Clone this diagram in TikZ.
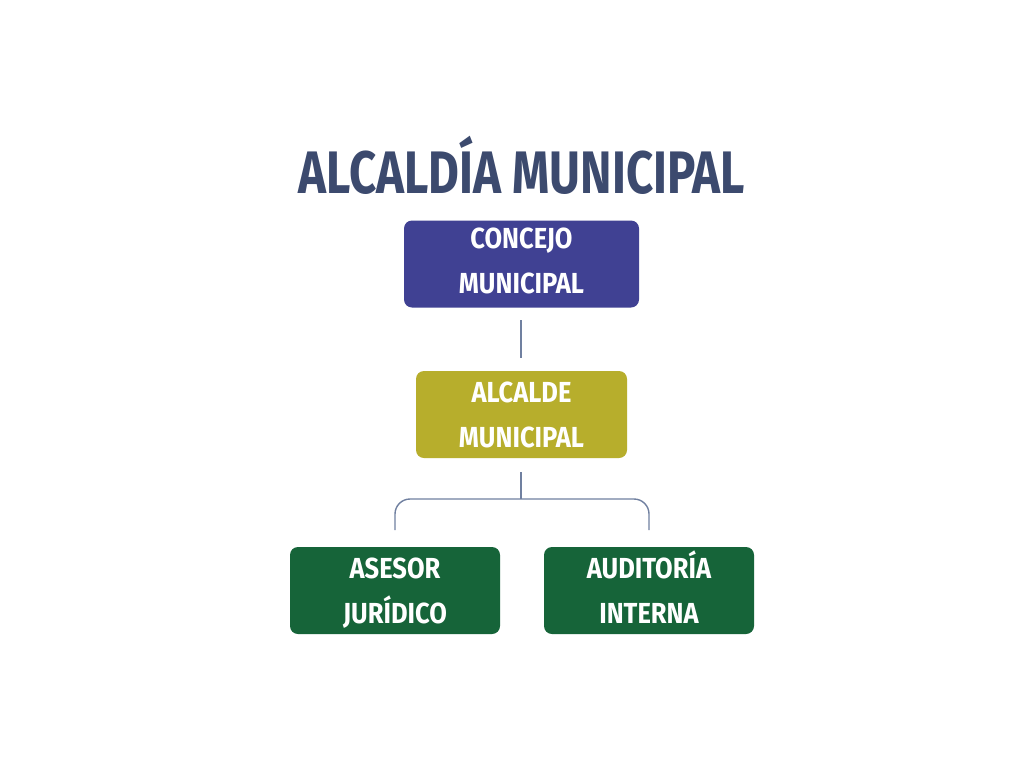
\documentclass[tikz,border=0pt]{standalone}
\usepackage{fontspec}
\setmainfont{Fira Sans}[FakeStretch=0.79,UprightFont=* Bold]
\newfontfamily\boxfont{Fira Sans}[FakeStretch=0.88,UprightFont=* Bold]
\newcommand\lnstrut{\rule[-14pt]{0pt}{41pt}}
\newcommand\lnstrutb{\rule[-10pt]{0pt}{41pt}}
\definecolor{titlec}{HTML}{3C4A6E}
\definecolor{concejoc}{HTML}{404193}
\definecolor{alcaldec}{HTML}{B7AE2C}
\definecolor{greenc}{HTML}{166439}
\definecolor{linec}{HTML}{7080A0}
\begin{document}
\begin{tikzpicture}[x=1pt,y=-1pt,
  box/.style={rounded corners=8pt, minimum width=#1, minimum height=87pt, inner sep=0pt, text=white, align=center, font=\boxfont\fontsize{29}{45}\selectfont},
  conn/.style={draw=linec, line width=1.4pt}]
\useasboundingbox[fill=white] (0,0) rectangle (1024,768);
\node[text=titlec, font=\fontsize{60}{60}\selectfont] (title) at (522,165) {ALCALDÍA MUNICIPAL};
\node[box=235pt, fill=concejoc] (concejo) at (521.5,264) {\lnstrut CONCEJO\\\lnstrut MUNICIPAL};
\node[box=211pt, fill=alcaldec] (alcalde) at (521.5,414.5) {\lnstrutb ALCALDE\\\lnstrutb MUNICIPAL};
\node[box=210pt, fill=greenc] (asesor) at (395,590.5) {\lnstrutb ASESOR\\\lnstrutb JURÍDICO};
\node[box=210pt, fill=greenc] (audit) at (649,590.5) {\lnstrutb AUDITORÍA\\\lnstrutb INTERNA};
\coordinate (c1a) at (521,320);
\coordinate (c1b) at (521,358);
\draw[conn] (c1a) -- (c1b);
\coordinate (c2a) at (521,472);
\coordinate (c2b) at (521,499);
\coordinate (la) at (395,530);
\coordinate (ra) at (649,530);
\draw[conn] (c2a) -- (c2b);
\draw[conn, rounded corners=15pt] (la) |- (c2b) -| (ra);
\end{tikzpicture}
\end{document}
